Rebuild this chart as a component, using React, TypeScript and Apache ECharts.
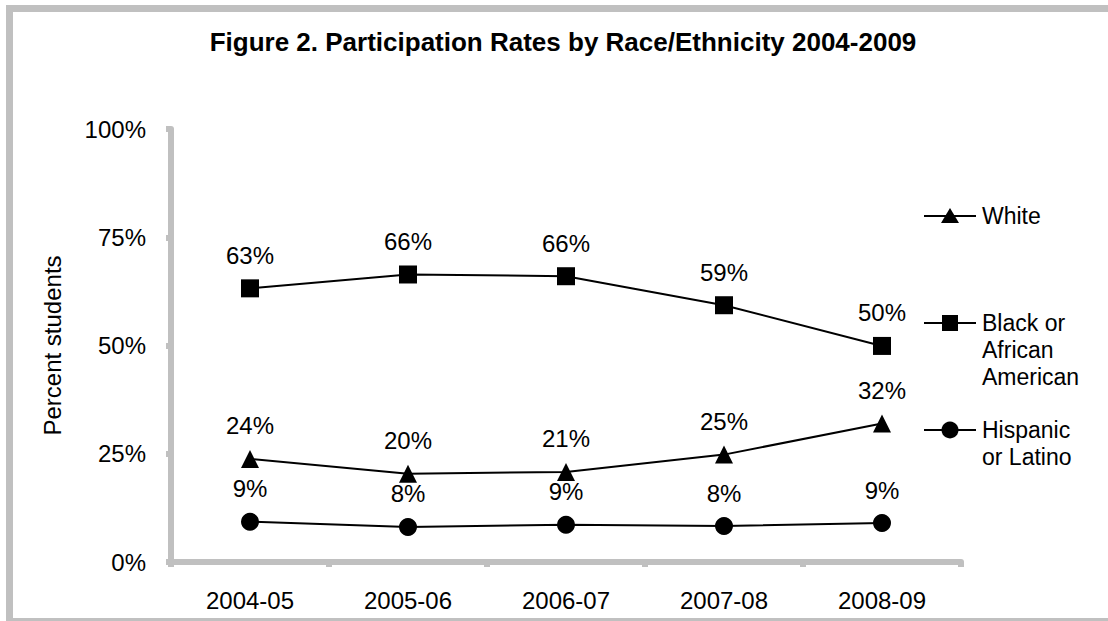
import React, { useEffect, useRef } from "react";
import * as echarts from "echarts";

// School years on the x axis
const years = ["2004-05", "2005-06", "2006-07", "2007-08", "2008-09"];

// Participation rate (%) per group
const white = [23.8, 20.4, 20.8, 24.8, 32.0];
const black = [63.2, 66.4, 66.0, 59.3, 49.9];
const hispanic = [9.3, 8.1, 8.6, 8.3, 9.0];

const seriesNames = ["White", "Black or African American", "Hispanic or Latino"];
const legendLines = [["White"], ["Black or", "African", "American"], ["Hispanic", "or Latino"]];
const yTicks = [0, 25, 50, 75, 100];

const FONT = "'Liberation Sans', Arial, Helvetica, sans-serif";
const GRAY = "#c0c0c0";

export default function App() {
  const ref = useRef<HTMLDivElement>(null);

  useEffect(() => {
    if (!ref.current) return;
    const chart = echarts.init(ref.current, undefined, { renderer: "svg" });

    const label = {
      show: true,
      position: "top" as const,
      distance: 12,
      color: "#000",
      fontFamily: FONT,
      fontSize: 24,
      formatter: (p: any) => Math.round(p.value) + "%",
    };

    const mkSeries = (name: string, data: number[], symbol: string) => ({
      name,
      type: "line",
      data,
      symbol,
      symbolSize: 18,
      lineStyle: { color: "#000", width: 2 },
      itemStyle: { color: "#000" },
      label,
    });

    // custom legend: line + marker + multi-line text
    const legendY = [216, 323, 430];
    const markerShape = (i: number, y: number) => {
      if (i === 0)
        return { type: "polygon", shape: { points: [[950, y - 8], [941, y + 7], [959, y + 7]] }, style: { fill: "#000" } };
      if (i === 1) return { type: "rect", shape: { x: 942, y: y - 8, width: 16, height: 16 }, style: { fill: "#000" } };
      return { type: "circle", shape: { cx: 950, cy: y, r: 8.5 }, style: { fill: "#000" } };
    };
    const legendGraphics: any[] = [];
    legendLines.forEach((lines, i) => {
      const y = legendY[i];
      legendGraphics.push({ type: "line", shape: { x1: 924, y1: y, x2: 976, y2: y }, style: { stroke: "#000", lineWidth: 2 } });
      legendGraphics.push(markerShape(i, y));
      lines.forEach((t, j) => {
        legendGraphics.push({
          type: "text",
          x: 982,
          y: y + j * 27,
          style: { text: t, fill: "#000", font: `23px ${FONT}`, textVerticalAlign: "middle", textAlign: "left" },
        });
      });
    });

    chart.setOption({
      animation: false,
      backgroundColor: "#fff",
      grid: { left: 171, right: 147, top: 129, bottom: 59 },
      xAxis: {
        type: "category",
        data: years,
        boundaryGap: true,
        axisLine: { lineStyle: { color: GRAY, width: 6 } },
        axisTick: { show: true, length: 5, lineStyle: { color: GRAY, width: 6 } },
        axisLabel: { color: "#000", fontFamily: FONT, fontSize: 24, margin: 26 },
        splitLine: { show: false },
      },
      yAxis: {
        type: "value",
        min: yTicks[0],
        max: yTicks[yTicks.length - 1],
        interval: 25,
        name: "Percent students",
        nameLocation: "middle",
        nameGap: 107,
        nameTextStyle: { color: "#000", fontFamily: FONT, fontSize: 24 },
        axisLine: { show: true, lineStyle: { color: GRAY, width: 6 } },
        axisTick: { show: true, length: 5, lineStyle: { color: GRAY, width: 6 } },
        axisLabel: { color: "#000", fontFamily: FONT, fontSize: 24, margin: 25, formatter: (v: number) => v + "%" },
        splitLine: { show: false },
      },
      series: [
        mkSeries(seriesNames[0], white, "triangle"),
        mkSeries(seriesNames[1], black, "rect"),
        mkSeries(seriesNames[2], hispanic, "circle"),
      ],
      graphic: [
        {
          type: "rect",
          shape: { x: 9.5, y: 8.5, width: 1200, height: 613 },
          style: { fill: "none", stroke: GRAY, lineWidth: 7 },
          silent: true,
        },
        {
          type: "text",
          x: 563,
          y: 42,
          style: {
            text: "Figure 2. Participation Rates by Race/Ethnicity 2004-2009",
            fill: "#000",
            font: `bold 26px ${FONT}`,
            textAlign: "center",
            textVerticalAlign: "middle",
          },
        },
        ...legendGraphics,
      ],
    });

    return () => chart.dispose();
  }, []);

  return <div ref={ref} style={{ position: "fixed", left: 0, top: 0, width: 1108, height: 621 }} />;
}
